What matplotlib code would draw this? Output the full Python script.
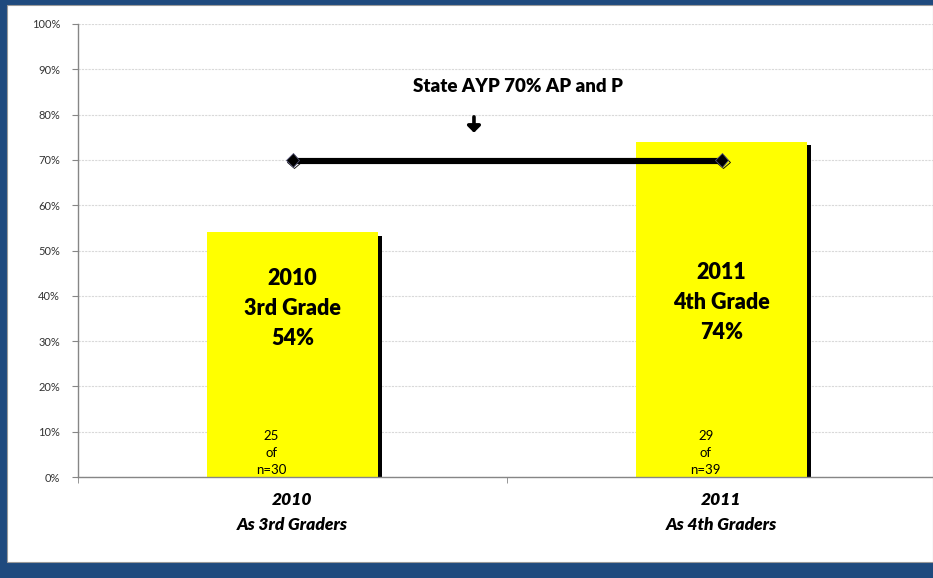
import matplotlib
matplotlib.use("Agg")
import matplotlib.pyplot as plt
import matplotlib.patheffects as pe
from matplotlib.patches import Rectangle

categories = ["2010\nAs 3rd Graders", "2011\nAs 4th Graders"]
bar_values = [0.54, 0.74]
target_values = [0.70, 0.70]
bar_labels = ["2010\n3rd Grade\n54%", "2011\n4th Grade\n74%"]
count_labels = ["25\nof\nn=30", "29\nof\nn=39"]
yticks = [0.0, 0.1, 0.2, 0.3, 0.4, 0.5, 0.6, 0.7, 0.8, 0.9, 1.0]
ytick_labels = ["0%", "10%", "20%", "30%", "40%", "50%", "60%", "70%", "80%", "90%", "100%"]
annotation_text = "State AYP 70% AP and P"

FONT = ["Lato", "DejaVu Sans"]
W, H = 933, 578
fig = plt.figure(figsize=(W / 100, H / 100), dpi=100)
fig.patch.set_facecolor("#1F4A7E")
# white panel
fig.patches.append(Rectangle((7 / W, (H - 562) / H), 1 - 7 / W, (562 - 5) / H,
                             transform=fig.transFigure, facecolor="white",
                             edgecolor="#9a9a9a", linewidth=0.8, zorder=-10))

ax = fig.add_axes([78 / W, (H - 477) / H, 858 / W, 453 / H])
ax.set_zorder(5)
ax.set_facecolor("none")
x = list(range(len(categories)))

bars = ax.bar(x, bar_values, width=0.40, color="#FFFF00", zorder=3)
for b in bars:
    b.set_path_effects([pe.SimplePatchShadow(offset=(2.4, -2.4), shadow_rgbFace="black", alpha=1.0),
                        pe.Normal()])

ax.plot(x, target_values, color="black", lw=3, zorder=5,
        marker="D", markersize=7, markerfacecolor="black", markeredgecolor="#555577",
        markeredgewidth=0.6,
        path_effects=[pe.SimpleLineShadow(offset=(1.2, -1.2), shadow_color="black", alpha=1.0),
                      pe.Normal()])

label_y = [0.372, 0.385]
for xi, lab, ly in zip(x, bar_labels, label_y):
    ax.text(xi, ly, lab, ha="center", va="center", fontsize=15.5, fontweight="heavy",
            family=FONT, linespacing=1.55, zorder=6)

count_dx = [-0.049, -0.037]
for xi, lab, dx in zip(x, count_labels, count_dx):
    ax.text(xi + dx, 0.052, lab, ha="center", va="center", fontsize=9.5,
            family=FONT, linespacing=1.5, zorder=6)

ax.text(0.526, 0.863, annotation_text, ha="center", va="center", fontsize=13.5,
        fontweight="heavy", family=FONT, zorder=6)
ax.annotate("", xy=(0.423, 0.760), xytext=(0.423, 0.795),
            arrowprops=dict(arrowstyle="-|>,head_width=0.38,head_length=0.38",
                            lw=2.6, color="black", shrinkA=0, shrinkB=0),
            zorder=6)

ax.set_xlim(-0.5, 1.5)
ax.set_ylim(0, 1.0)
ax.set_yticks(yticks)
ax.set_yticklabels(ytick_labels, fontsize=8, color="#333333", family=FONT)
ax.set_xticks(x)
ax.set_xticklabels(categories, fontsize=12.5, fontweight="heavy", style="italic",
                   family=FONT, linespacing=1.7)
ax.set_xticks([-0.5, 0.5, 1.5], minor=True)
ax.tick_params(axis="x", which="major", length=0, pad=11)
ax.tick_params(axis="x", which="minor", length=4, color="#868686")
ax.tick_params(axis="y", length=4, color="#868686", pad=9)
ax.grid(axis="y", color="#d9d9d9", linestyle=(0, (2, 1)), linewidth=0.8, zorder=0)
for s in ["top", "right"]:
    ax.spines[s].set_visible(False)
for s in ["left", "bottom"]:
    ax.spines[s].set_color("#868686")
    ax.spines[s].set_linewidth(1.0)
    ax.spines[s].set_zorder(4)

fig.savefig("out.png", dpi=100, facecolor=fig.get_facecolor())
